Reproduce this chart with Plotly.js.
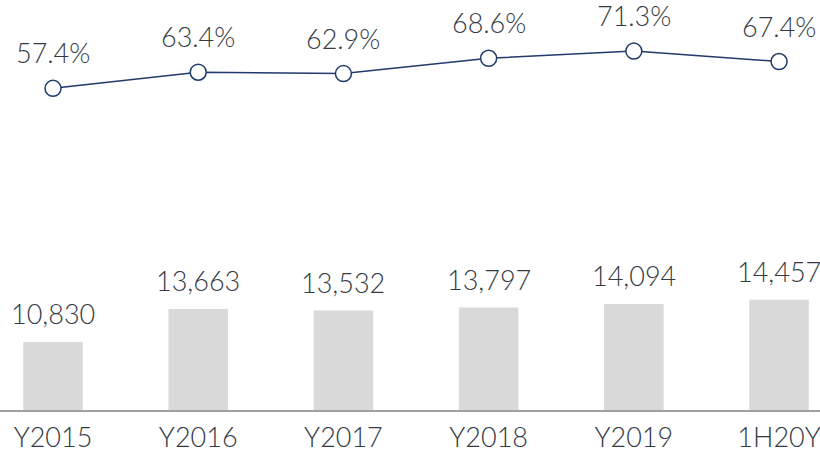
<!DOCTYPE html>
<html>
<head>
<meta charset="utf-8">
<script src="https://cdn.plot.ly/plotly-3.0.1.min.js"></script>
<style>html,body{margin:0;padding:0;background:#fff;}#chart{width:820px;height:452px;}</style>
</head>
<body>
<div id="chart"></div>
<script>
const categories = ["Y2015", "Y2016", "Y2017", "Y2018", "Y2019", "1H20Y"];
const barValues = [10830, 13663, 13532, 13797, 14094, 14457];
const ratioValues = [57.4, 63.4, 62.9, 68.6, 71.3, 67.4];

const textColor = "#343a44";
const fontFam = "Lato, 'Noto Sans', sans-serif";
const fontSize = 27;
const fontWeight = 300;

const barTrace = {
  type: "bar",
  x: categories,
  y: barValues,
  marker: {color: "#d9d9d9"},
  width: 0.41,
  yaxis: "y",
  hoverinfo: "none"
};

const lineTrace = {
  type: "scatter",
  mode: "lines+markers",
  x: categories,
  y: ratioValues,
  yaxis: "y2",
  line: {color: "#1f3a6b", width: 1.5},
  marker: {size: 16, color: "#ffffff", line: {color: "#1f3a6b", width: 1.5}},
  hoverinfo: "none"
};

const annotations = [];
categories.forEach((c, i) => {
  annotations.push({
    x: c, y: barValues[i], xref: "x", yref: "y",
    text: barValues[i].toLocaleString("en-US"),
    showarrow: false, yanchor: "bottom", yshift: 10,
    font: {family: fontFam, size: fontSize, color: textColor, weight: fontWeight}
  });
  annotations.push({
    x: c, y: ratioValues[i], xref: "x", yref: "y2",
    text: ratioValues[i].toFixed(1) + "%",
    showarrow: false, yanchor: "bottom", yshift: 17,
    font: {family: fontFam, size: fontSize, color: textColor, weight: fontWeight}
  });
});

const layout = {
  width: 820, height: 452,
  margin: {l: 0, r: 0, t: 0, b: 42, pad: 0},
  paper_bgcolor: "#ffffff",
  plot_bgcolor: "#ffffff",
  showlegend: false,
  font: {family: fontFam, size: fontSize, color: textColor},
  xaxis: {
    type: "category",
    range: [-0.365, 5.282],
    showline: true, linecolor: "#a0a0a0", linewidth: 2,
    showgrid: false, zeroline: false, ticks: "",
    ticklabelstandoff: 3,
    tickfont: {family: fontFam, size: fontSize, color: textColor, weight: fontWeight},
    automargin: false
  },
  yaxis: {
    range: [5000, 40193],
    visible: false, showgrid: false, zeroline: false, fixedrange: true
  },
  yaxis2: {
    range: [-62.6, 90.35],
    overlaying: "y", visible: false, showgrid: false, zeroline: false
  },
  annotations: annotations
};

Plotly.newPlot("chart", [barTrace, lineTrace], layout, {displayModeBar: false, staticPlot: true});
</script>
</body>
</html>
